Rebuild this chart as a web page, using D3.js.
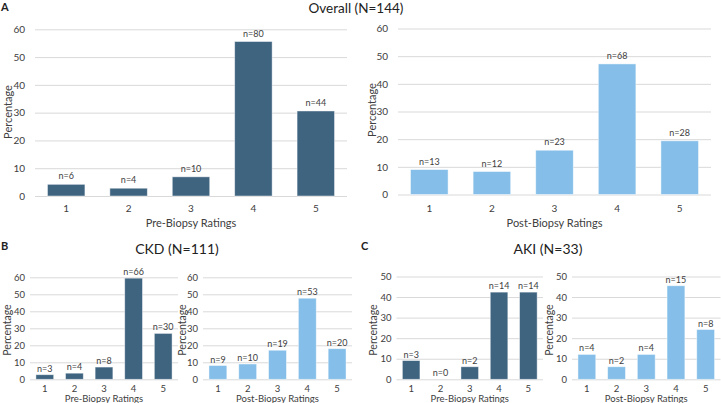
<!DOCTYPE html>
<html>
<head>
<meta charset="utf-8">
<script src="https://cdn.jsdelivr.net/npm/d3@7"></script>
<style>
  html, body { margin: 0; padding: 0; background: #fff; }
  svg { display: block; font-family: Lato, "Open Sans", sans-serif; }
</style>
</head>
<body>
<svg id="chart" width="721" height="403"></svg>
<script>
// ---- data ----
const ratings = ["1", "2", "3", "4", "5"];
const overallPreN = [6, 4, 10, 80, 44];
const overallPrePct = [4.2, 2.8, 6.9, 55.6, 30.6];
const overallPostN = [13, 12, 23, 68, 28];
const overallPostPct = [9.0, 8.3, 16.0, 47.2, 19.4];
const ckdPreN = [3, 4, 8, 66, 30];
const ckdPrePct = [2.7, 3.6, 7.2, 59.5, 27.0];
const ckdPostN = [9, 10, 19, 53, 20];
const ckdPostPct = [8.1, 9.0, 17.1, 47.7, 18.0];
const akiPreN = [3, 0, 2, 14, 14];
const akiPrePct = [9.1, 0, 6.1, 42.4, 42.4];
const akiPostN = [4, 2, 4, 15, 8];
const akiPostPct = [12.1, 6.1, 12.1, 45.5, 24.2];
const yTicksOverall = [0, 10, 20, 30, 40, 50, 60];
const yTicksCkd = [0, 10, 20, 30, 40, 50, 60];
const yTicksAki = [0, 10, 20, 30, 40, 50];
const xTitlePre = "Pre-Biopsy Ratings";
const xTitlePost = "Post-Biopsy Ratings";
const yTitle = "Percentage";

const DARK = "#3f6480";
const LIGHT = "#85bfe9";
const GRID = "#d9d9d9";
const TXT = "#404040";

const svg = d3.select("#chart");

function panel(cfg) {
  const g = svg.append("g");
  const x = d3.scaleBand().domain(ratings).range([cfg.x0, cfg.x1])
    .paddingInner(0.4).paddingOuter(0.2);
  const yMax = cfg.ticks[cfg.ticks.length - 1];
  const y = d3.scaleLinear().domain([0, yMax]).range([cfg.yb, cfg.yt]);

  // grid + y labels
  const ya = d3.axisLeft(y).tickValues(cfg.ticks).tickSize(-(cfg.x1 - cfg.x0)).tickPadding(cfg.yPad);
  const yg = g.append("g").attr("transform", `translate(${cfg.x0},0)`).call(ya);
  yg.select(".domain").remove();
  yg.selectAll(".tick line").attr("stroke", GRID).attr("stroke-width", 1);
  yg.selectAll(".tick text").attr("fill", TXT).style("font-size", cfg.fs + "px")
    .style("font-family", "Lato, sans-serif");

  // bars
  const data = ratings.map((r, i) => ({ r, v: cfg.pct[i], n: cfg.n[i] }));
  g.selectAll("rect.bar").data(data).enter().append("rect")
    .attr("class", "bar")
    .attr("x", d => x(d.r))
    .attr("width", x.bandwidth())
    .attr("y", d => y(d.v))
    .attr("height", d => y(0) - y(d.v))
    .attr("fill", cfg.color)
    .attr("stroke", d => d.v > 0 ? "rgba(255,255,255,0.55)" : "none")
    .attr("stroke-width", 0.8);

  // value labels
  g.selectAll("text.lbl").data(data).enter().append("text")
    .attr("class", "lbl")
    .attr("x", d => x(d.r) + x.bandwidth() / 2)
    .attr("y", d => y(d.v) - cfg.lblGap)
    .attr("text-anchor", "middle")
    .attr("fill", TXT)
    .style("font-size", cfg.lfs + "px")
    .text(d => "n=" + d.n);

  // x axis labels
  const xa = d3.axisBottom(x).tickSize(0).tickPadding(0);
  const xg = g.append("g").attr("transform", `translate(0,${cfg.xTickY})`).call(xa);
  xg.select(".domain").remove();
  xg.selectAll(".tick text").attr("fill", TXT).attr("dy", 0).style("font-size", cfg.fs + "px")
    .style("font-family", "Lato, sans-serif");

  g.append("text")
    .attr("x", (cfg.x0 + cfg.x1) / 2)
    .attr("y", cfg.xTitleY)
    .attr("text-anchor", "middle")
    .attr("fill", TXT)
    .style("font-size", cfg.tfs + "px")
    .text(cfg.xTitle);

  g.append("text")
    .attr("transform", `translate(${cfg.yTitleX},${cfg.yTitleY}) rotate(-90)`)
    .attr("text-anchor", "middle")
    .attr("dy", "0.35em")
    .attr("fill", TXT)
    .style("font-size", cfg.yfs + "px")
    .text(yTitle);
}

const bigCommon = { fs: 10, lfs: 9, tfs: 11, yfs: 11, lblGap: 5, yPad: 10, xTickY: 212, xTitleY: 227 };
panel(Object.assign({}, bigCommon, {
  x0: 35, x1: 347, yt: 29.3, yb: 196, ticks: yTicksOverall,
  pct: overallPrePct, n: overallPreN, color: DARK, xTitle: xTitlePre,
  yTitleX: 8, yTitleY: 112
}));
panel(Object.assign({}, bigCommon, {
  x0: 398, x1: 711, yt: 28.5, yb: 194.5, ticks: yTicksOverall,
  pct: overallPostPct, n: overallPostN, color: LIGHT, xTitle: xTitlePost,
  yTitleX: 372, yTitleY: 110
}));

const smallCommon = { fs: 9.5, lfs: 9, tfs: 9.5, yfs: 10.5, lblGap: 3, yPad: 5, xTickY: 391.5, xTitleY: 401.5, yTitleY: 330 };
panel(Object.assign({}, smallCommon, {
  x0: 30, x1: 178, yt: 277.3, yb: 379.3, ticks: yTicksCkd,
  pct: ckdPrePct, n: ckdPreN, color: DARK, xTitle: xTitlePre, yTitleX: 7
}));
panel(Object.assign({}, smallCommon, {
  x0: 203, x1: 352, yt: 277.3, yb: 379.3, ticks: yTicksCkd,
  pct: ckdPostPct, n: ckdPostN, color: LIGHT, xTitle: xTitlePost, yTitleX: 182
}));
panel(Object.assign({}, smallCommon, {
  x0: 396.5, x1: 543, yt: 276.5, yb: 379.3, ticks: yTicksAki,
  pct: akiPrePct, n: akiPreN, color: DARK, xTitle: xTitlePre, yTitleX: 373
}));
panel(Object.assign({}, smallCommon, {
  x0: 572, x1: 720.5, yt: 276.5, yb: 379.3, ticks: yTicksAki,
  pct: akiPostPct, n: akiPostN, color: LIGHT, xTitle: xTitlePost, yTitleX: 549
}));

// titles and panel letters
function txt(x, y, s, size, weight, anchor) {
  svg.append("text").attr("x", x).attr("y", y).attr("text-anchor", anchor || "middle")
    .attr("fill", "#222").style("font-size", size + "px").style("font-weight", weight || "normal")
    .text(s);
}
txt(356, 13, "Overall (N=144)", 13.5);
txt(177, 254, "CKD (N=111)", 14);
txt(548, 254, "AKI (N=33)", 14);
txt(1, 11, "A", 11, "bold", "start");
txt(1, 250, "B", 11, "bold", "start");
txt(361, 250, "C", 11, "bold", "start");
</script>
</body>
</html>
